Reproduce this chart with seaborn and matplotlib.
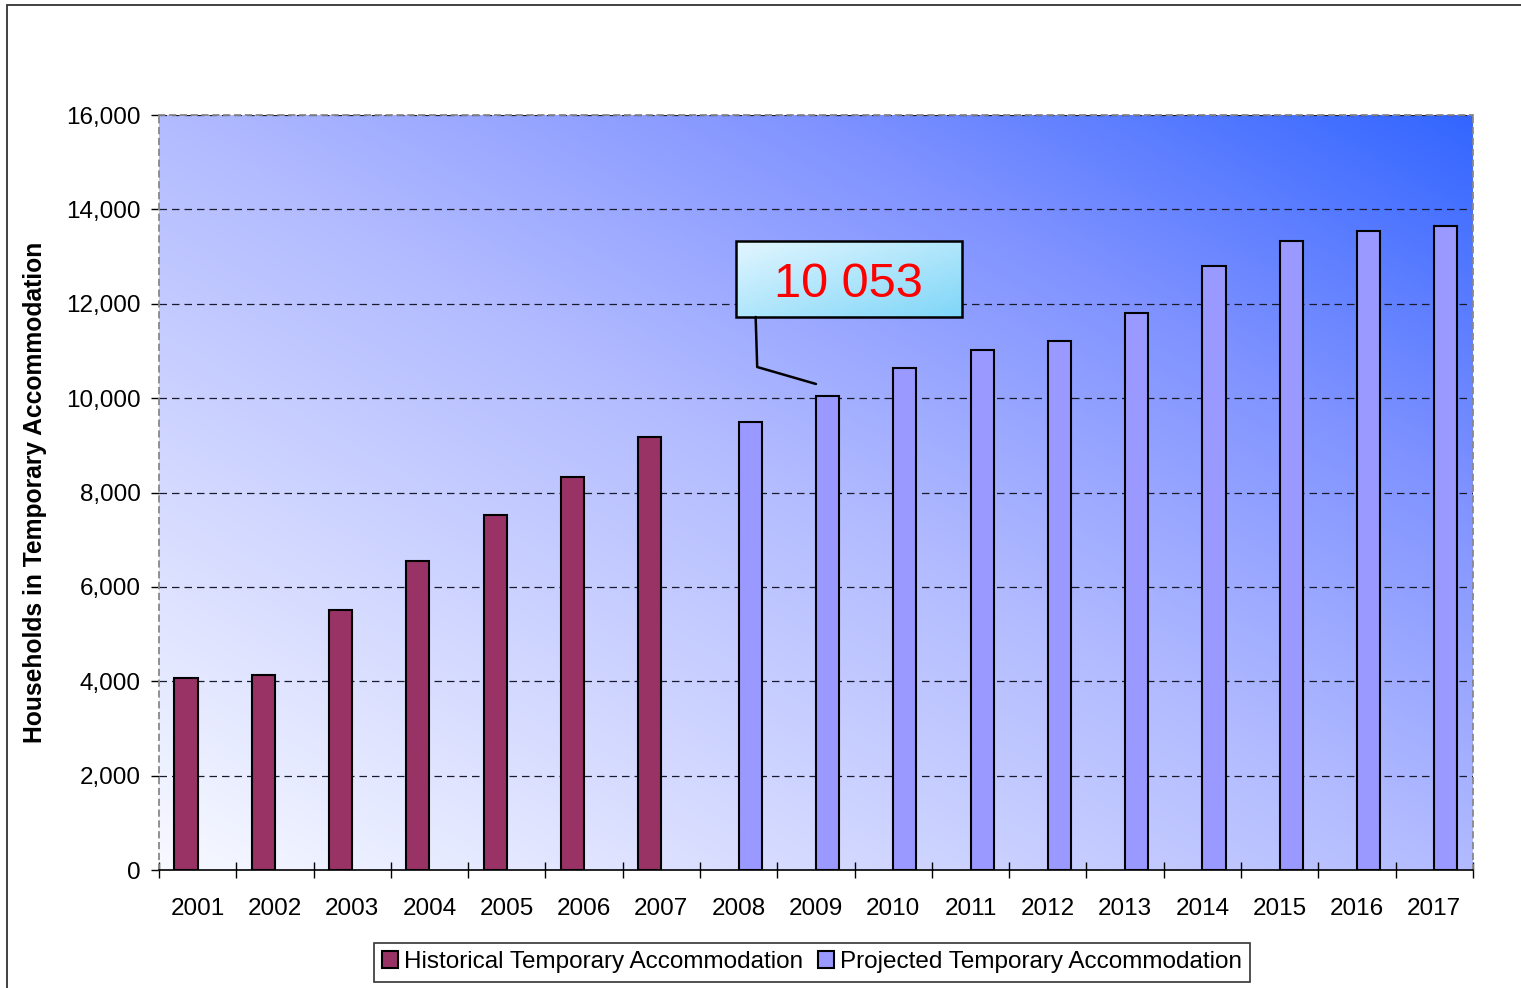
import numpy as np
import pandas as pd
import matplotlib
matplotlib.use("Agg")
import matplotlib.pyplot as plt
import seaborn as sns
from matplotlib.colors import LinearSegmentedColormap
from matplotlib.patches import Rectangle
from matplotlib.ticker import FuncFormatter, FixedLocator

# ---- data ----
years = [str(y) for y in range(2001, 2018)]
historical = [4070, 4130, 5510, 6550, 7520, 8330, 9180]
projected = [9490, 10053, 10640, 11020, 11210, 11800, 12800, 13330, 13540, 13650]
series_names = ["Historical Temporary Accommodation", "Projected Temporary Accommodation"]
series_colors = ["#993366", "#9999ff"]
callout_text = "10 053"

rows = []
for y, v in zip(years[:len(historical)], historical):
    rows.append((y, v, series_names[0]))
for y, v in zip(years[len(historical):], projected):
    rows.append((y, v, series_names[1]))
df = pd.DataFrame(rows, columns=["year", "value", "series"])

sns.set_style("white")
plt.rcParams["font.family"] = ["Liberation Sans", "DejaVu Sans"]
plt.rcParams.update({"text.color": "black", "axes.labelcolor": "black",
                     "xtick.color": "black", "ytick.color": "black"})

fig = plt.figure(figsize=(15.21, 9.88), dpi=100)
ax = fig.add_axes([0.1045, 0.1194, 0.8639, 0.7642])

# gradient background (white bottom-left -> blue top-right)
grad_cmap = LinearSegmentedColormap.from_list(
    "bg", [(0, "#f7f9ff"), (0.5, "#b2bbff"), (0.75, "#7f92ff"), (1, "#3366ff")])
gx, gy = np.meshgrid(np.linspace(0, 1, 300), np.linspace(0, 1, 300))
ax.imshow((gx + gy) / 2, cmap=grad_cmap, origin="lower", extent=(0, 1, 0, 1),
          transform=ax.transAxes, aspect="auto", zorder=0)

sns.barplot(data=df, x="year", y="value", hue="series", order=years,
            hue_order=series_names, palette=series_colors, width=0.6,
            dodge=True, saturation=1, edgecolor="black", linewidth=1.5,
            errorbar=None, ax=ax, zorder=3)

ax.set_xlim(-0.5, len(years) - 0.5)
ax.set_ylim(0, 16000)
ax.set_aspect("auto")

# grid and spines
for yv in range(2000, 16001, 2000):
    ax.axhline(yv, color="#1a1a2e", lw=0.9, ls=(0, (6, 4)), zorder=2)
for s in ["top", "right", "left"]:
    ax.spines[s].set_color("#888888")
    ax.spines[s].set_linestyle((0, (3, 3)))
    ax.spines[s].set_linewidth(1.3)
ax.spines["bottom"].set_color("black")
ax.spines["bottom"].set_linewidth(1.2)
ax.spines["bottom"].set_zorder(5)

ax.yaxis.set_major_locator(FixedLocator(range(0, 16001, 2000)))
ax.yaxis.set_major_formatter(FuncFormatter(lambda v, p: f"{int(v):,}"))
ax.tick_params(axis="y", direction="out", length=6, width=1, color="black",
               labelsize=17.5, pad=7, left=True)
ax.xaxis.set_minor_locator(FixedLocator(np.arange(-0.5, len(years), 1)))
ax.tick_params(axis="x", which="major", length=0, labelsize=17.5, pad=20)
ax.tick_params(axis="x", which="minor", direction="inout", length=11,
               width=1, color="black", bottom=True)

ax.set_xlabel("")
ax.set_ylabel("Households in Temporary Accommodation", fontsize=17.7,
              fontweight="bold", labelpad=14)

# callout box for 2009
bx0, bx1, by0, by1 = 6.96, 9.89, 11720, 13330
box_cmap = LinearSegmentedColormap.from_list("box", ["#e2f6ff", "#7fd6f8"])
ax.imshow((gx + gy) / 2, cmap=box_cmap, origin="upper",
          extent=(bx0, bx1, by0, by1), aspect="auto", zorder=6)
ax.add_patch(Rectangle((bx0, by0), bx1 - bx0, by1 - by0, fill=False,
                       edgecolor="black", lw=1.8, zorder=7))
ax.text((bx0 + bx1) / 2, (by0 + by1) / 2 - 120, callout_text, color="red",
        fontsize=35, ha="center", va="center", zorder=8)
ax.plot([7.22, 7.24, 8.0], [by0, 10660, 10300], color="black", lw=1.8, zorder=7)
ax.set_xlim(-0.5, len(years) - 0.5)
ax.set_ylim(0, 16000)

# legend
handles, labels = ax.get_legend_handles_labels()
ax.get_legend().remove()
leg = fig.legend(handles, labels, loc="center", bbox_to_anchor=(0.534, 0.0263),
                 ncol=2, fontsize=17.5, frameon=True, fancybox=False,
                 edgecolor="black", handlelength=0.65, handleheight=0.65,
                 handletextpad=0.25, columnspacing=0.6, borderpad=0.35)
leg.get_frame().set_linewidth(1.2)

# outer figure border
fig.patches.append(Rectangle((7 / 1521, -0.01), 1.0, 1 - 5 / 988 + 0.01,
                             transform=fig.transFigure, fill=False,
                             edgecolor="#333333", lw=1.3))

fig.savefig("out.png", dpi=100)
